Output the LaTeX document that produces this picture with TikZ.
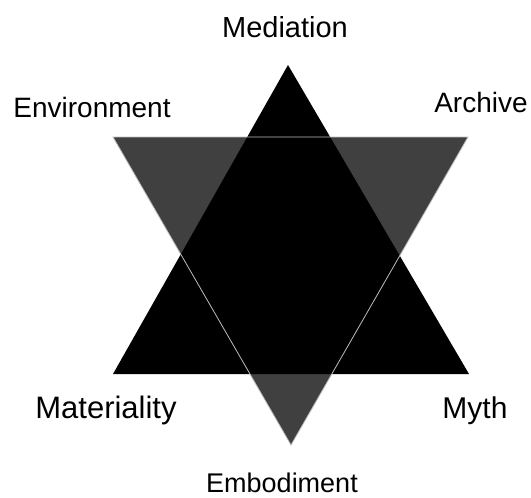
\documentclass[tikz,border=0pt]{standalone}
\usepackage{fontspec}
\setmainfont{Liberation Sans}
\usetikzlibrary{calc}
\definecolor{stargrey}{RGB}{64,64,64}
\definecolor{edgegrey}{RGB}{190,190,190}

\tikzset{
  lab/.style={inner sep=0pt, anchor=base, font=\fontsize{#1}{#1}\selectfont},
  lab/.default=28
}

\begin{document}
\begin{tikzpicture}[x=1pt, y=-1pt]
\useasboundingbox (0,0) rectangle (531,498);

% downward triangle
\coordinate (dl) at (113,137);
\coordinate (dr) at (468,137);
\coordinate (db) at (291,445);
% upward triangle
\coordinate (ut) at (288,65);
\coordinate (ur) at (469,374);
\coordinate (ul) at (113,374);

\fill[stargrey](dl)--(dr)--(db)--cycle;
\fill[black](ut)--(ur)--(ul)--cycle;
\draw[edgegrey, line width=0.8pt](dl)--(dr)--(db)--cycle;

\node[lab=29] (mediation) at (285,37) {Mediation};
\node[lab=28] (environment) at (92,117) {Environment};
\node[lab=28] (archive) at (481,112) {Archive};
\node[lab=31] (materiality) at (106,418) {Materiality};
\node[lab=30] (myth) at (475,418) {Myth};
\node[lab=27] (embodiment) at (282,492) {Embodiment};

\end{tikzpicture}
\end{document}
